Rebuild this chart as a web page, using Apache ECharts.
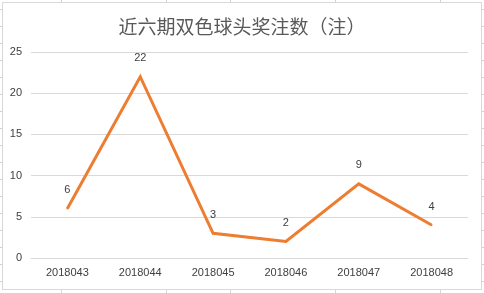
<!DOCTYPE html>
<html>
<head>
<meta charset="utf-8">
<script src="https://cdn.jsdelivr.net/npm/echarts@6/dist/echarts.min.js"></script>
<style>
  html, body { margin: 0; padding: 0; width: 484px; height: 293px; overflow: hidden; }
  body {
    background-color: #fff;
    /* spreadsheet cell grid behind the chart */
    background-image:
      repeating-linear-gradient(to bottom, transparent 0, transparent 9px, #d4d4d4 9px, #d4d4d4 10px, transparent 10px, transparent 17px),
      linear-gradient(to right, transparent 61px, #d4d4d4 61px, #d4d4d4 62px, transparent 62px, transparent 166px, #d4d4d4 166px, #d4d4d4 167px, transparent 167px, transparent 230px, #d4d4d4 230px, #d4d4d4 231px, transparent 231px, transparent 335px, #d4d4d4 335px, #d4d4d4 336px, transparent 336px, transparent 440px, #d4d4d4 440px, #d4d4d4 441px, transparent 441px);
  }
  #chart {
    position: absolute; left: 2px; top: 2px; width: 478px; height: 286px;
    background: #fff; border: 1px solid #d9d9d9;
  }
</style>
</head>
<body>
<div id="chart"></div>
<script>
// Draw numbers and axis values
const categories = ['2018043', '2018044', '2018045', '2018046', '2018047', '2018048'];
const winners = [6, 22, 3, 2, 9, 4];
const yTicks = [0, 5, 10, 15, 20, 25];

const chart = echarts.init(document.getElementById('chart'));
chart.setOption({
  animation: false,
  title: {
    text: '近六期双色球头奖注数（注）',
    left: 'center',
    top: 9,
    textStyle: { fontFamily: 'Noto Sans CJK SC', fontSize: 19, fontWeight: 'normal', color: '#595959' }
  },
  grid: { left: 28, right: 13, top: 49, bottom: 31, containLabel: false },
  xAxis: {
    type: 'category',
    data: categories,
    boundaryGap: true,
    axisLine: { show: true, lineStyle: { color: '#d9d9d9', width: 1 } },
    axisTick: { show: false },
    axisLabel: { color: '#404040', fontSize: 11, fontFamily: 'Liberation Sans', margin: 9 }
  },
  yAxis: {
    type: 'value',
    min: yTicks[0],
    max: yTicks[yTicks.length - 1],
    interval: yTicks[1] - yTicks[0],
    axisLine: { show: false },
    axisTick: { show: false },
    axisLabel: { color: '#404040', fontSize: 11, fontFamily: 'Liberation Sans', margin: 9 },
    splitLine: { lineStyle: { color: '#d9d9d9', width: 1 } }
  },
  series: [{
    type: 'line',
    data: winners,
    symbol: 'circle',
    symbolSize: 2,
    showSymbol: true,
    itemStyle: { color: '#ED7D31' },
    lineStyle: { color: '#ED7D31', width: 3, join: 'miter' },
    label: {
      show: true,
      position: 'top',
      distance: 12,
      color: '#404040',
      fontSize: 11,
      fontFamily: 'Liberation Sans'
    }
  }]
});
</script>
</body>
</html>
